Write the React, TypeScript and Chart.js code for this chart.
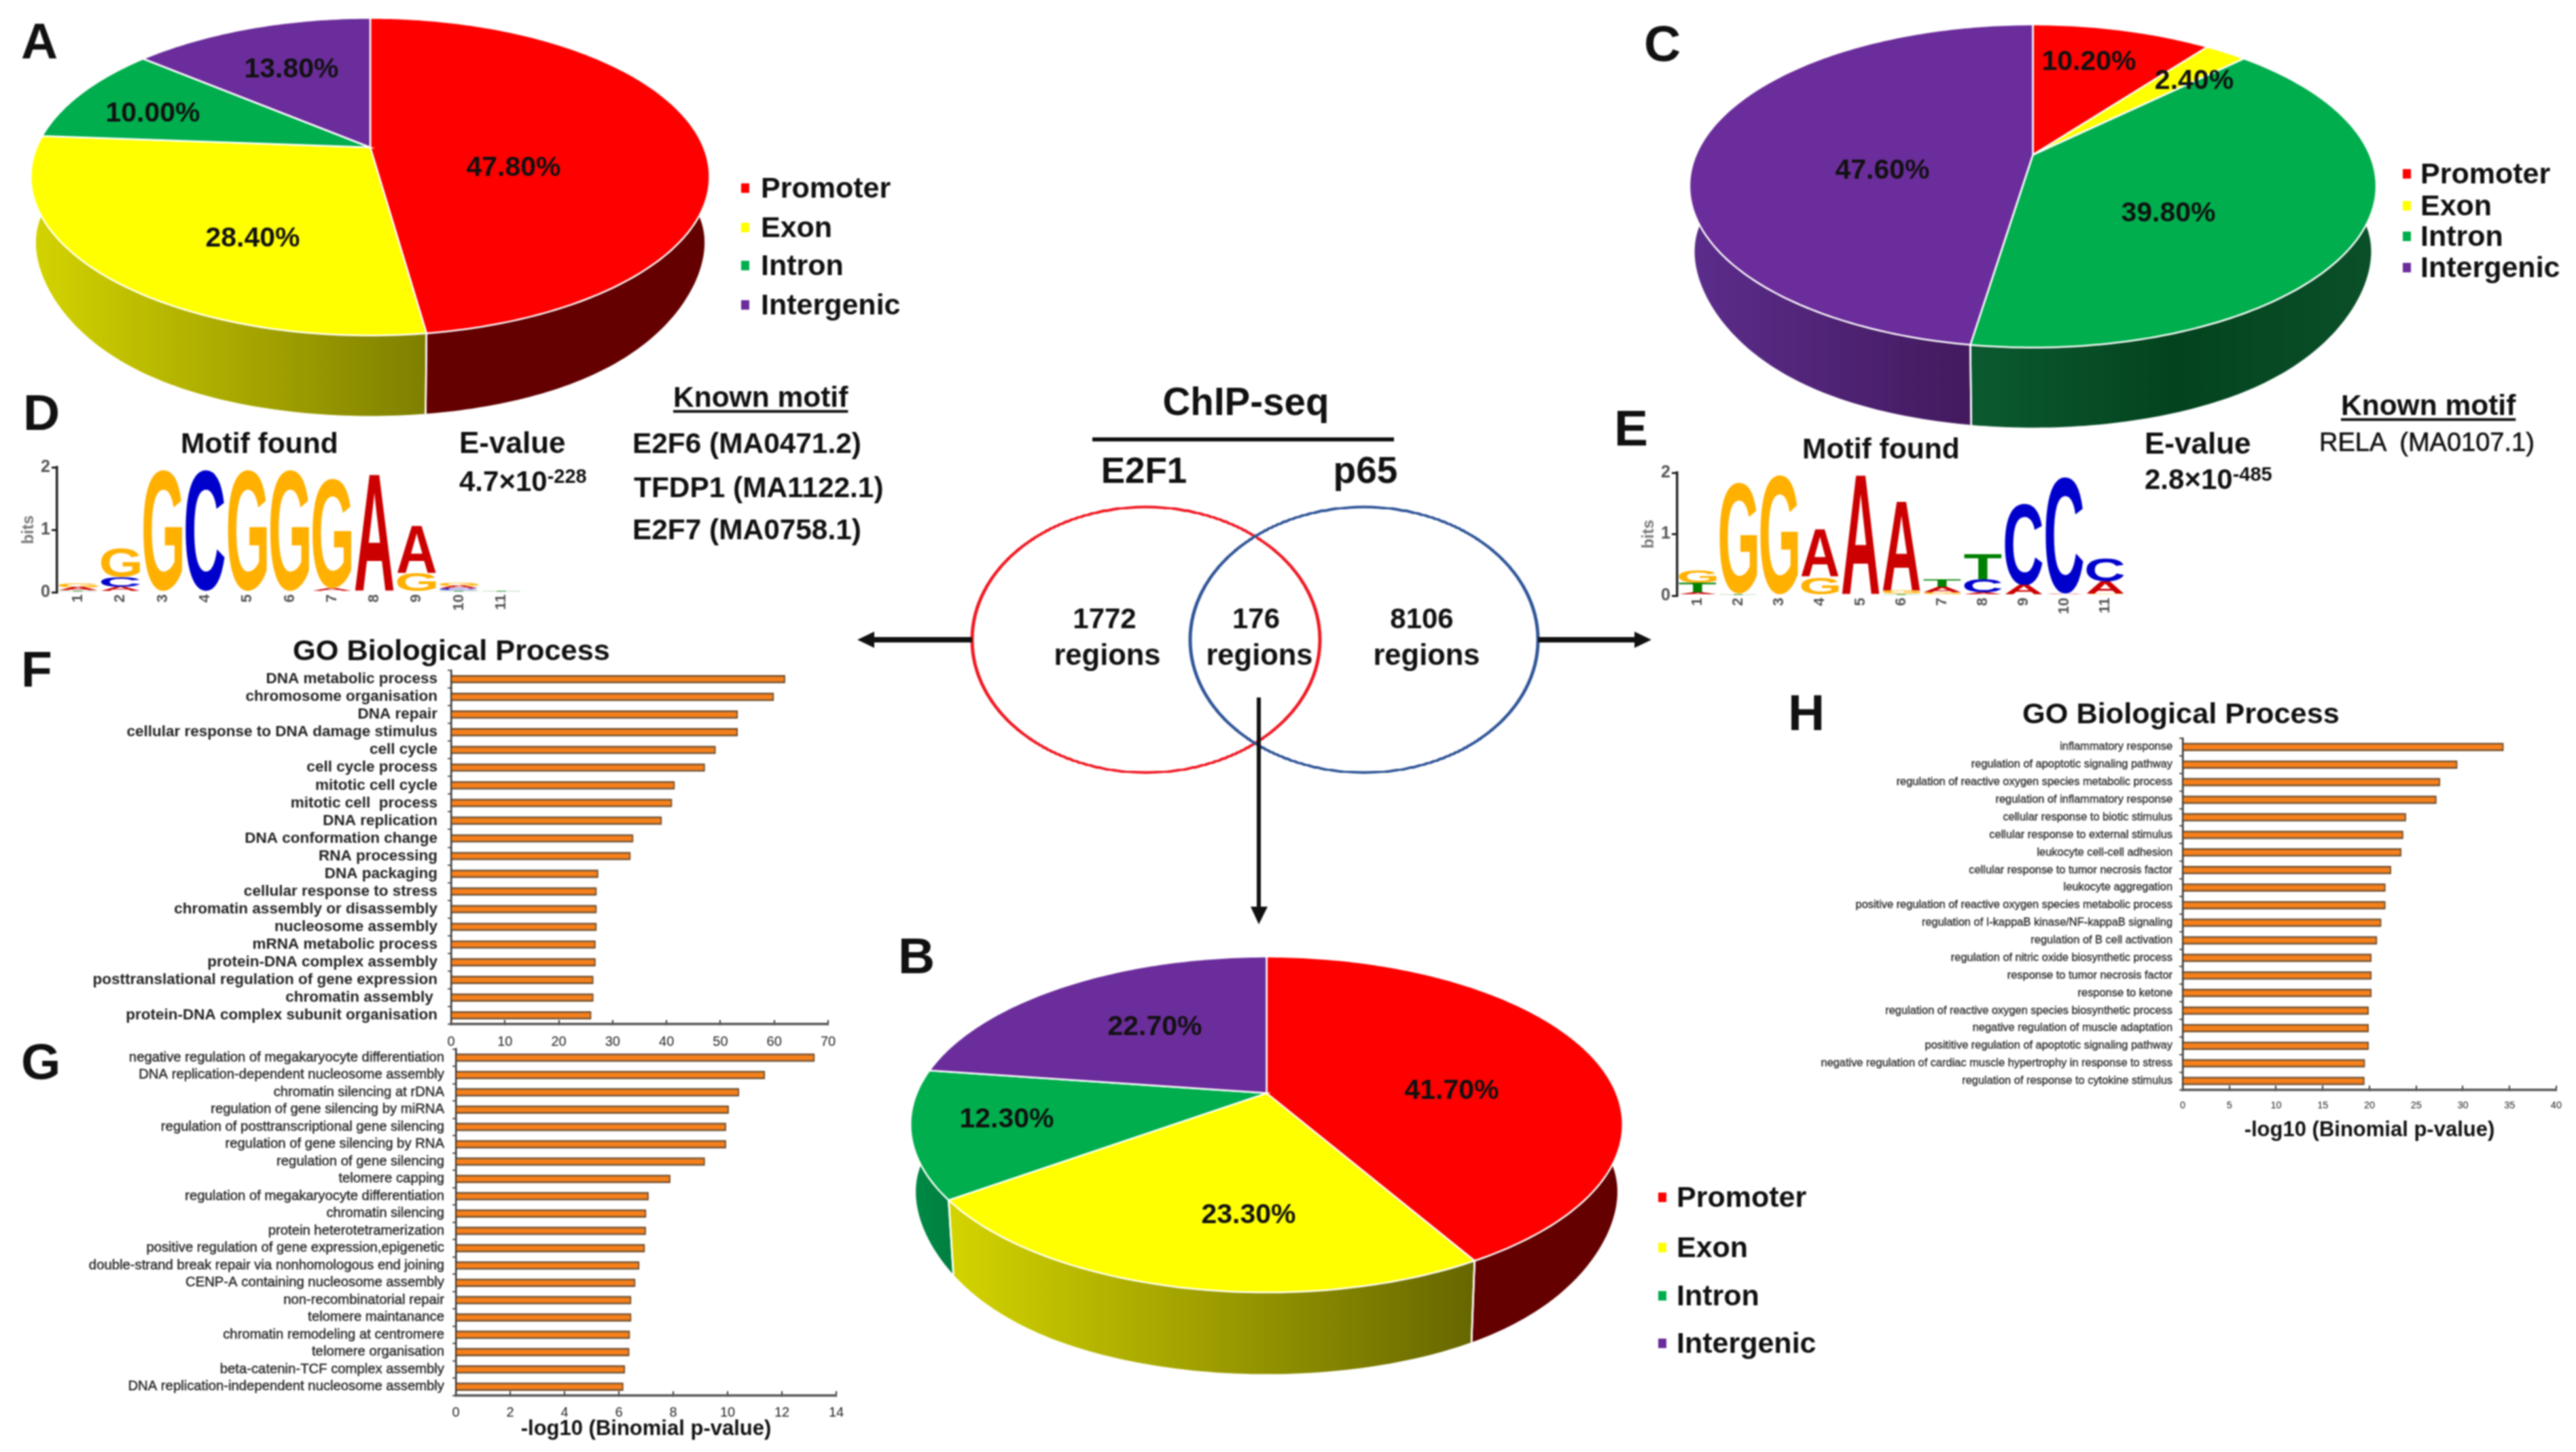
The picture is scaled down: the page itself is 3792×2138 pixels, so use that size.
import React, { useEffect, useRef } from 'react';
import { Chart, registerables } from 'chart.js';

Chart.register(...registerables);

const SANS = '"Liberation Sans", Arial, sans-serif';
Chart.defaults.font.family = SANS;

// ---------- data ----------
const regionTypes = ['Promoter', 'Exon', 'Intron', 'Intergenic'];
const pieAValues = [47.8, 28.4, 10.0, 13.8];
const pieBValues = [41.7, 23.3, 12.3, 22.7];
const pieCValues = [10.2, 2.4, 39.8, 47.6];

const vennSets = ['E2F1', 'p65'];

const motifPositions = ['1', '2', '3', '4', '5', '6', '7', '8', '9', '10', '11'];
// each position: letters from bottom to top, with their height in bits
const motifDStacks: [string, number][][] = [
  [['T', 0.03], ['A', 0.05], ['G', 0.07]],
  [['A', 0.08], ['C', 0.16], ['G', 0.46]],
  [['G', 1.95]],
  [['C', 1.95]],
  [['G', 1.95]],
  [['G', 1.95]],
  [['T', 0.02], ['A', 0.04], ['G', 1.75]],
  [['G', 0.02], ['A', 1.86]],
  [['G', 0.3], ['A', 0.75]],
  [['T', 0.03], ['C', 0.03], ['A', 0.04], ['G', 0.05]],
  [['T', 0.01]],
];
const motifEStacks: [string, number][][] = [
  [['C', 0.02], ['A', 0.03], ['T', 0.16], ['G', 0.2]],
  [['T', 0.03], ['G', 1.8]],
  [['G', 1.95]],
  [['C', 0.02], ['G', 0.28], ['A', 0.77]],
  [['A', 1.95]],
  [['T', 0.03], ['G', 0.05], ['A', 1.45]],
  [['C', 0.02], ['G', 0.03], ['A', 0.08], ['T', 0.13]],
  [['A', 0.05], ['C', 0.22], ['T', 0.41]],
  [['A', 0.17], ['C', 1.33]],
  [['A', 0.03], ['C', 1.9]],
  [['G', 0.03], ['A', 0.2], ['C', 0.38]],
];

const goFLabels = [
  'DNA metabolic process', 'chromosome organisation', 'DNA repair', 'cellular response to DNA damage stimulus',
  'cell cycle', 'cell cycle process', 'mitotic cell cycle', 'mitotic cell  process', 'DNA replication',
  'DNA conformation change', 'RNA processing', 'DNA packaging', 'cellular response to stress',
  'chromatin assembly or disassembly', 'nucleosome assembly', 'mRNA metabolic process', 'protein-DNA complex assembly',
  'posttranslational regulation of gene expression', 'chromatin assembly ', 'protein-DNA complex subunit organisation',
];
const goFValues = [62, 59.9, 53.2, 53.2, 49.1, 47.1, 41.5, 41, 39.1, 33.8, 33.3, 27.3, 27, 27, 27, 26.8, 26.8, 26.4, 26.4, 26];

const goGLabels = [
  'negative regulation of megakaryocyte differentiation', 'DNA replication-dependent nucleosome assembly',
  'chromatin silencing at rDNA', 'regulation of gene silencing by miRNA', 'regulation of posttranscriptional gene silencing',
  'regulation of gene silencing by RNA', 'regulation of gene silencing', 'telomere capping',
  'regulation of megakaryocyte differentiation', 'chromatin silencing', 'protein heterotetramerization',
  'positive regulation of gene expression,epigenetic', 'double-strand break repair via nonhomologous end joining',
  'CENP-A containing nucleosome assembly', 'non-recombinatorial repair', 'telomere maintanance',
  'chromatin remodeling at centromere', 'telomere organisation', 'beta-catenin-TCF complex assembly',
  'DNA replication-independent nucleosome assembly',
];
const goGValues = [13.2, 11.37, 10.42, 10.04, 9.94, 9.94, 9.16, 7.89, 7.09, 7.0, 6.99, 6.95, 6.75, 6.6, 6.45, 6.45, 6.4, 6.38, 6.22, 6.16];

const goHLabels = [
  'inflammatory response', 'regulation of apoptotic signaling pathway', 'regulation of reactive oxygen species metabolic process',
  'regulation of inflammatory response', 'cellular response to biotic stimulus', 'cellular response to external stimulus',
  'leukocyte cell-cell adhesion', 'cellular response to tumor necrosis factor', 'leukocyte aggregation',
  'positive regulation of reactive oxygen species metabolic process', 'regulation of I-kappaB kinase/NF-kappaB signaling',
  'regulation of B cell activation', 'regulation of nitric oxide biosynthetic process', 'response to tumor necrosis factor',
  'response to ketone', 'regulation of reactive oxygen species biosynthetic process', 'negative regulation of muscle adaptation',
  'posititive regulation of apoptotic signaling pathway', 'negative regulation of cardiac muscle hypertrophy in response to stress',
  'regulation of response to cytokine stimulus',
];
const goHValues = [34.35, 29.4, 27.55, 27.16, 23.9, 23.6, 23.4, 22.3, 21.7, 21.7, 21.25, 20.8, 20.2, 20.2, 20.2, 19.9, 19.9, 19.9, 19.5, 19.45];

const xAxisTitle = '-log10 (Binomial p-value)';

// ---------- colours ----------
const sliceColors = ['#ff0000', '#ffff00', '#00ae4d', '#6b2d9b'];
const letterColors: Record<string, string> = { A: '#cc0000', C: '#0000cc', G: '#ffb000', T: '#008000' };

// ---------- drawing helpers ----------
type Geo = {
  cx: number; apexY: number; a: number; b: number; k: number; s: number; dy: number;
  sides: string[][]; labelAt: number[][];
  legend: { markerX: number; textX: number; ys: number[] };
};

function pie3dPlugin(g: Geo) {
  const project = (ang: number) => {
    const u = Math.cos(ang), v = Math.sin(ang), w = 1 - g.k * v;
    return [g.cx + (g.a * u) / w, g.apexY + (g.b * v) / w];
  };
  const ecy = g.apexY + (g.b / (1 - g.k) - g.b / (1 + g.k)) / 2;
  const halfW = g.a / Math.sqrt(1 - g.k * g.k);
  const lower = (p: number[]) => {
    const n = Math.abs(p[0] - g.cx) / halfW;
    return [g.cx + (p[0] - g.cx) * g.s, ecy + (p[1] - ecy) * g.s + g.dy - 25 * Math.pow(n, 6)];
  };
  const sample = (a0: number, a1: number) => {
    const n = Math.max(4, Math.ceil(((a1 - a0) / (2 * Math.PI)) * 360));
    const pts: number[][] = [];
    for (let i = 0; i <= n; i++) pts.push(project(a0 + ((a1 - a0) * i) / n));
    return pts;
  };
  return {
    id: 'pie3d',
    beforeDatasetDraw(chart: any) {
      const ctx = chart.ctx;
      const arcs = chart.getDatasetMeta(0).data;
      const values = chart.data.datasets[0].data;
      const colors = chart.data.datasets[0].backgroundColor;
      ctx.save();
      // walls
      arcs.forEach((arc: any, i: number) => {
        const pts = sample(arc.startAngle, arc.endAngle);
        const front = pts.filter((p) => p[1] >= ecy);
        const xs = (front.length ? front : pts).map((p) => p[0]);
        const x0 = Math.min(...xs), x1 = Math.max(...xs);
        const stops = g.sides[i];
        let fill: any = stops[0];
        if (stops.length > 1 && x1 > x0) {
          fill = ctx.createLinearGradient(x0, 0, x1, 0);
          stops.forEach((c, j) => fill.addColorStop(j / (stops.length - 1), c));
        }
        ctx.beginPath();
        pts.forEach((p, j) => (j ? ctx.lineTo(p[0], p[1]) : ctx.moveTo(p[0], p[1])));
        pts.slice().reverse().forEach((p) => { const q = lower(p); ctx.lineTo(q[0], q[1]); });
        ctx.closePath();
        ctx.fillStyle = fill;
        ctx.fill();
      });
      // wall separators
      ctx.strokeStyle = '#ffffff';
      ctx.lineWidth = 2.5;
      arcs.forEach((arc: any) => {
        [arc.startAngle, arc.endAngle].forEach((ang: number) => {
          if (Math.sin(ang) > 0.02) {
            const p = project(ang), q = lower(p);
            ctx.beginPath(); ctx.moveTo(p[0], p[1]); ctx.lineTo(q[0], q[1]); ctx.stroke();
          }
        });
      });
      // top faces
      arcs.forEach((arc: any, i: number) => {
        const pts = sample(arc.startAngle, arc.endAngle);
        ctx.beginPath();
        ctx.moveTo(g.cx, g.apexY);
        pts.forEach((p) => ctx.lineTo(p[0], p[1]));
        ctx.closePath();
        ctx.fillStyle = colors[i];
        ctx.fill();
        ctx.stroke();
      });
      // value labels
      ctx.fillStyle = '#111111';
      ctx.font = `bold 41px ${SANS}`;
      ctx.textAlign = 'center';
      ctx.textBaseline = 'middle';
      values.forEach((v: number, i: number) => {
        ctx.fillText(`${v.toFixed(2)}%`, g.labelAt[i][0], g.labelAt[i][1] + 4);
      });
      // legend
      ctx.font = `bold 43px ${SANS}`;
      ctx.textAlign = 'left';
      chart.data.labels.forEach((label: string, i: number) => {
        ctx.fillStyle = colors[i];
        ctx.fillRect(g.legend.markerX, g.legend.ys[i] - 7, 12, 14);
        ctx.fillStyle = '#111111';
        ctx.fillText(label, g.legend.textX, g.legend.ys[i] + 2);
      });
      ctx.restore();
      return false;
    },
  };
}

const logoPlugin = {
  id: 'logoLetters',
  beforeDatasetDraw(chart: any, args: any) {
    const ctx = chart.ctx;
    const ds = chart.data.datasets[args.index];
    const meta = chart.getDatasetMeta(args.index);
    ctx.save();
    ctx.font = `bold 200px ${SANS}`;
    ctx.textAlign = 'left';
    ctx.textBaseline = 'alphabetic';
    meta.data.forEach((bar: any, i: number) => {
      const letter = ds.letters[i];
      if (!letter) return;
      const m = ctx.measureText(letter);
      const gw = m.actualBoundingBoxRight + m.actualBoundingBoxLeft;
      const gh = m.actualBoundingBoxAscent + m.actualBoundingBoxDescent;
      const h = Math.abs(bar.base - bar.y);
      const w = bar.width * 0.92;
      ctx.save();
      ctx.translate(bar.x - w / 2, bar.base);
      ctx.scale(w / gw, h / gh);
      ctx.fillStyle = letterColors[letter];
      ctx.fillText(letter, m.actualBoundingBoxLeft, -m.actualBoundingBoxDescent);
      ctx.restore();
    });
    ctx.restore();
    return false;
  },
};

const barShadow = {
  id: 'barShadow',
  beforeDatasetDraw(chart: any) {
    const c = chart.ctx;
    c.save();
    c.shadowColor = 'rgba(95,105,115,0.9)';
    c.shadowBlur = 4;
    c.shadowOffsetY = 0;
  },
  afterDatasetDraw(chart: any) {
    chart.ctx.restore();
  },
};

function pieConfig(values: number[], g: Geo) {
  return {
    type: 'pie',
    data: { labels: regionTypes, datasets: [{ data: values, backgroundColor: sliceColors }] },
    options: {
      responsive: false, animation: false, devicePixelRatio: 1,
      plugins: { legend: { display: false }, tooltip: { enabled: false } },
    },
    plugins: [pie3dPlugin(g)],
  };
}

type BarOpts = {
  labels: string[]; values: number[]; max: number; step: number;
  axisLeft: number; axisRight: number; areaTop: number; areaBottom: number;
  left: number; top: number; width: number; height: number;
  labelFont: any; labelPad: number; tickFont: any; tickPad: number; tickMark: number;
  stroke?: number; title?: boolean; titlePad?: number;
};

function barConfig(o: BarOpts) {
  return {
    type: 'bar',
    data: {
      labels: o.labels,
      datasets: [{
        data: o.values, backgroundColor: '#f7801a', borderColor: '#7a4a1c',
        borderWidth: { top: 2.5, bottom: 2.5, right: 2, left: 0 }, barThickness: 11.5,
      }],
    },
    options: {
      indexAxis: 'y', responsive: false, animation: false, devicePixelRatio: 1,
      layout: { autoPadding: false, padding: { top: o.areaTop - o.top, right: o.left + o.width - o.axisRight, left: 0, bottom: 0 } },
      plugins: { legend: { display: false }, tooltip: { enabled: false } },
      scales: {
        y: {
          type: 'category',
          grid: { drawOnChartArea: false, offset: true, tickLength: 5, color: '#555555', lineWidth: 2 },
          border: { color: '#333333', width: 2.5 },
          ticks: {
            autoSkip: false, color: '#222222', font: o.labelFont, padding: o.labelPad,
            textStrokeColor: '#222222', textStrokeWidth: o.stroke ?? 0,
          },
          afterFit: (s: any) => { s.width = o.axisLeft - o.left; },
        },
        x: {
          type: 'linear', min: 0, max: o.max,
          grid: { drawOnChartArea: false, tickLength: o.tickMark, color: '#333333', lineWidth: 2 },
          border: { color: '#555555', width: 3.5 },
          ticks: { stepSize: o.step, maxRotation: 0, color: '#222222', font: o.tickFont, padding: o.tickPad },
          title: o.title
            ? { display: true, text: xAxisTitle, color: '#111111', font: { size: 31, weight: 'bold' }, padding: { top: 0, bottom: o.titlePad ?? 0 } }
            : { display: false },
          afterFit: (s: any) => { s.height = o.top + o.height - o.areaBottom; },
        },
      },
    },
    plugins: [barShadow],
  };
}

type LogoOpts = {
  stacks: [string, number][][]; axisLeft: number; axisRight: number; areaTop: number; areaBottom: number;
  left: number; top: number; width: number; height: number; bitsPad: number;
};

function logoConfig(o: LogoOpts) {
  const layers = Math.max(...o.stacks.map((s) => s.length));
  const datasets = [];
  for (let l = 0; l < layers; l++) {
    datasets.push({
      data: o.stacks.map((s) => (s[l] ? s[l][1] : 0)),
      letters: o.stacks.map((s) => (s[l] ? s[l][0] : '')),
      backgroundColor: '#000000', barPercentage: 1, categoryPercentage: 1,
    });
  }
  return {
    type: 'bar',
    data: { labels: motifPositions, datasets },
    options: {
      responsive: false, animation: false, devicePixelRatio: 1,
      layout: { autoPadding: false, padding: { top: o.areaTop - o.top, right: o.left + o.width - o.axisRight, left: 0, bottom: 0 } },
      plugins: { legend: { display: false }, tooltip: { enabled: false } },
      scales: {
        x: {
          stacked: true,
          grid: { display: false, drawTicks: false },
          border: { display: false },
          ticks: { minRotation: 90, maxRotation: 90, autoSkip: false, color: '#555555', padding: 3, font: { size: 22, weight: 'bold' } },
          afterFit: (s: any) => { s.height = o.top + o.height - o.areaBottom; },
        },
        y: {
          stacked: true, min: 0, max: 2,
          grid: { drawOnChartArea: false, tickLength: 8, color: '#222222', lineWidth: 3 },
          border: { color: '#222222', width: 3.5 },
          ticks: { stepSize: 1, color: '#555555', padding: 2, font: { size: 25, weight: 'bold' } },
          title: { display: true, text: 'bits', color: '#777777', font: { size: 24, weight: 'bold' }, padding: { top: o.bitsPad, bottom: 0 } },
          afterFit: (s: any) => { s.width = o.axisLeft - o.left; },
        },
      },
    },
    plugins: [logoPlugin],
  };
}

function vennConfig(width: number, height: number, r: number, stroke: number) {
  const unitPx = 160.5;
  const xSpan = (width / 2) / unitPx;
  const ySpan = (height / 2) / unitPx;
  return {
    type: 'bubble',
    data: {
      labels: vennSets,
      datasets: [
        { label: vennSets[1], data: [{ x: 1, y: 0, r }], borderColor: '#2f5597', backgroundColor: 'transparent', borderWidth: stroke },
        { label: vennSets[0], data: [{ x: -1, y: 0, r }], borderColor: '#f01822', backgroundColor: 'transparent', borderWidth: stroke },
      ],
    },
    options: {
      responsive: false, animation: false, devicePixelRatio: 1,
      layout: { autoPadding: false, padding: 0 },
      clip: false,
      plugins: { legend: { display: false }, tooltip: { enabled: false } },
      scales: {
        x: { display: false, min: -xSpan, max: xSpan },
        y: { display: false, min: -ySpan, max: ySpan },
      },
    },
  };
}

// ---------- components ----------
function ChartBox({ left, top, width, height, scaleY = 1, config }: any) {
  const ref = useRef<HTMLCanvasElement | null>(null);
  useEffect(() => {
    const chart = new Chart(ref.current as any, config() as any);
    return () => chart.destroy();
  }, []);
  return (
    <div style={{ position: 'absolute', left, top, width, height, transformOrigin: '0 0', transform: `scaleY(${scaleY})` }}>
      <canvas ref={ref} width={width} height={height} />
    </div>
  );
}

function T({ x, y, size = 43, weight = 'bold', center = false, underline = false, stroke = 0, children }: any) {
  return (
    <div
      style={{
        position: 'absolute', left: x, top: y, whiteSpace: 'pre', lineHeight: 1, fontSize: size, fontWeight: weight,
        fontFamily: SANS, color: '#111111', transform: `translate(${center ? '-50%' : '0'}, -50%)`,
        textDecoration: underline ? 'underline' : 'none', textUnderlineOffset: 5,
        WebkitTextStroke: stroke ? `${stroke}px #111111` : undefined,
      }}
    >
      {children}
    </div>
  );
}

const panelLetters: [string, number, number][] = [
  ['A', 31, 60], ['B', 1322, 1407], ['C', 2420, 64], ['D', 34, 607],
  ['E', 2376, 630], ['F', 31, 985], ['G', 31, 1563], ['H', 2632, 1049],
];

const geoA: Geo = {
  cx: 545, apexY: 217, a: 491, b: 225.8, k: 0.185, s: 0.985, dy: 122,
  sides: [['#640000'], ['#d4d400', '#7f7f00'], ['#008040'], ['#4a2070']],
  labelAt: [[756, 244], [372, 348], [225, 164], [429, 99]],
  legend: { markerX: 1091, textX: 1120, ys: [277, 335, 391, 449] },
};
const geoB: Geo = {
  cx: 1864.5, apexY: 1609.6, a: 515, b: 238.6, k: 0.187, s: 0.985, dy: 124,
  sides: [['#640000'], ['#d4d400', '#666600'], ['#008a45', '#008040'], ['#4a2070']],
  labelAt: [[2137, 1603], [1838, 1786], [1482, 1645], [1700, 1509]],
  legend: { markerX: 2441, textX: 2468, ys: [1763, 1837, 1908, 1978] },
};
const geoC: Geo = {
  cx: 2992.5, apexY: 228, a: 496, b: 229, k: 0.193, s: 0.985, dy: 121.5,
  sides: [['#640000'], ['#7f7f00'], ['#0c5a30', '#03441f', '#0a5028'], ['#5c2d8c', '#431a5e']],
  labelAt: [[3075, 88], [3230, 116], [3192, 311], [2771, 248]],
  legend: { markerX: 3537, textX: 3563, ys: [256, 303, 348, 394] },
};

const PAGE_W = 3792;
const PAGE_H = 2138;

export default function App() {
  return (
    <div
      style={{
        position: 'absolute', left: 0, top: 0, width: PAGE_W, height: PAGE_H, overflow: 'hidden',
        background: '#ffffff', filter: 'blur(0.8px)',
      }}
    >
      <ChartBox left={0} top={0} width={PAGE_W} height={PAGE_H} config={() => pieConfig(pieAValues, geoA)} />
      <ChartBox left={0} top={0} width={PAGE_W} height={PAGE_H} config={() => pieConfig(pieBValues, geoB)} />
      <ChartBox left={0} top={0} width={PAGE_W} height={PAGE_H} config={() => pieConfig(pieCValues, geoC)} />

      <ChartBox left={0} top={640} width={800} height={290}
        config={() => logoConfig({ stacks: motifDStacks, axisLeft: 84, axisRight: 769, areaTop: 688, areaBottom: 872, left: 0, top: 640, width: 800, height: 290, bitsPad: 27.6 })} />
      <ChartBox left={2400} top={650} width={760} height={290}
        config={() => logoConfig({ stacks: motifEStacks, axisLeft: 2469, axisRight: 3129, areaTop: 696, areaBottom: 877, left: 2400, top: 650, width: 760, height: 290, bitsPad: 13 })} />

      <ChartBox left={0} top={945} width={1260} height={620}
        config={() => barConfig({
          labels: goFLabels, values: goFValues, max: 70, step: 10,
          axisLeft: 664, axisRight: 1219, areaTop: 987, areaBottom: 1508,
          left: 0, top: 945, width: 1260, height: 620,
          labelFont: { size: 22.5, weight: 'bold' }, labelPad: 15, tickFont: { size: 20 }, tickPad: 20, tickMark: -6,
        })} />
      <ChartBox left={0} top={1500} width={1280} height={635}
        config={() => barConfig({
          labels: goGLabels, values: goGValues, max: 14, step: 2,
          axisLeft: 671, axisRight: 1231, areaTop: 1544.6, areaBottom: 2054.6,
          left: 0, top: 1500, width: 1280, height: 635,
          labelFont: { size: 20.3 }, labelPad: 12, stroke: 0.4, tickFont: { size: 20 }, tickPad: 20, tickMark: -6,
          title: true, titlePad: 12,
        })} />
      <ChartBox left={2500} top={1045} width={1292} height={650}
        config={() => barConfig({
          labels: goHLabels, values: goHValues, max: 40, step: 5,
          axisLeft: 3213, axisRight: 3766, areaTop: 1087, areaBottom: 1604.5,
          left: 2500, top: 1045, width: 1292, height: 650,
          labelFont: { size: 16.4 }, labelPad: 10, stroke: 0.3, tickFont: { size: 14.5 }, tickPad: 21, tickMark: -6,
          title: true, titlePad: 12,
        })} />

      <ChartBox left={1421} top={747 - 10 * (195.5 / 256)} width={853} height={532} scaleY={195.5 / 256}
        config={() => vennConfig(853, 532, 256, 5)} />

      <svg width={PAGE_W} height={PAGE_H} style={{ position: 'absolute', left: 0, top: 0 }}>
        <rect x={1608} y={644} width={444} height={6} fill="#111" />
        <rect x={1285} y={938} width={146} height={8} fill="#111" />
        <polygon points="1262,942 1287,930 1287,954" fill="#111" />
        <rect x={2264} y={938} width={146} height={8} fill="#111" />
        <polygon points="2431,942 2406,930 2406,954" fill="#111" />
        <rect x={1850} y={1027} width={6} height={310} fill="#111" />
        <polygon points="1853,1361 1841,1335 1866,1335" fill="#111" />
      </svg>

      {panelLetters.map(([l, x, y]) => (
        <T key={l} x={x} y={y} size={75}>{l}</T>
      ))}

      <T x={1834} y={592} size={56.5} center>ChIP-seq</T>
      <T x={1684} y={692} size={53} center>{vennSets[0]}</T>
      <T x={2010} y={692} size={55} center>{vennSets[1]}</T>
      <T x={1626} y={911} size={42} center>1772</T>
      <T x={1630} y={965} size={43.5} center>regions</T>
      <T x={1849} y={911} size={42} center>176</T>
      <T x={1854} y={965} size={43.5} center>regions</T>
      <T x={2093} y={911} size={42} center>8106</T>
      <T x={2100} y={965} size={43.5} center>regions</T>

      <T x={266} y={652} size={42.6}>Motif found</T>
      <T x={676} y={652} size={44}>E-value</T>
      <T x={676} y={708} size={42}>4.7×10<span style={{ fontSize: 29, verticalAlign: 12 }}>-228</span></T>
      <T x={991} y={585} size={42.5} underline>Known motif</T>
      <T x={931} y={653} size={42.4}>E2F6 (MA0471.2)</T>
      <T x={933} y={718} size={42.4}>TFDP1 (MA1122.1)</T>
      <T x={931} y={780} size={42.4}>E2F7 (MA0758.1)</T>

      <T x={2653} y={660} size={42.6}>Motif found</T>
      <T x={3157} y={653} size={44}>E-value</T>
      <T x={3157} y={705} size={42}>2.8×10<span style={{ fontSize: 29, verticalAlign: 12 }}>-485</span></T>
      <T x={3446} y={597} size={42.5} underline>Known motif</T>
      <T x={3414} y={651} size={38} weight="normal" stroke={0.6}>{'RELA  (MA0107.1)'}</T>

      <T x={431} y={958} size={43.3}>GO Biological Process</T>
      <T x={2977} y={1051} size={43.3}>GO Biological Process</T>
    </div>
  );
}
